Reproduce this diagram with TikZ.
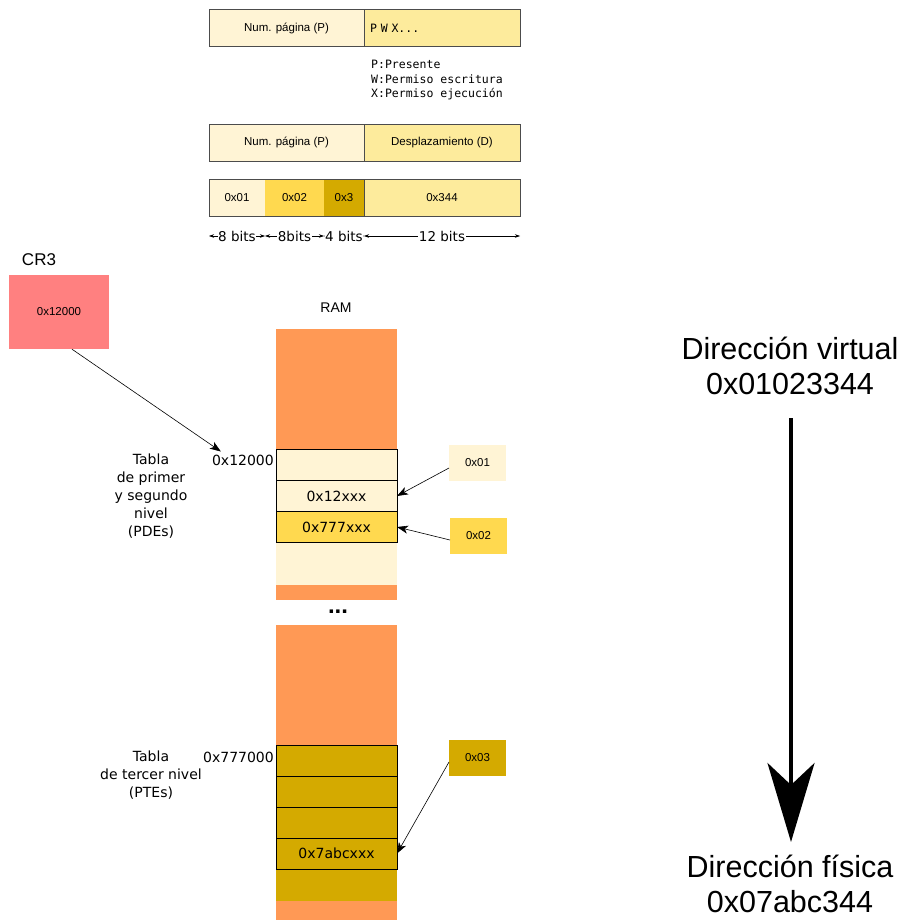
\documentclass[tikz,border=0pt]{standalone}
\usepackage{fontspec}
\setmainfont{Liberation Sans}
\newfontfamily\dvsans{DejaVu Sans}
\newfontfamily\dvmono{DejaVu Sans Mono}
\usepackage{xcolor}
\usetikzlibrary{arrows.meta,positioning,calc}

\definecolor{cream}{HTML}{FFF4D5}
\definecolor{lightyel}{HTML}{FDEB9C}
\definecolor{yel}{HTML}{FFD94F}
\definecolor{gold}{HTML}{D4AA00}
\definecolor{ramorange}{HTML}{FF9955}
\definecolor{crred}{HTML}{FF8080}
\newcommand{\fsz}[2]{\fontsize{#1}{#2}\selectfont}

\begin{document}
\begin{tikzpicture}[
    x=1pt, y=-1pt,
    field/.style={rectangle, draw=black!70, inner sep=0pt, outer sep=0pt, minimum height=37pt, font=\fsz{11.5}{13}},
    part/.style={rectangle, inner sep=0pt, outer sep=0pt, minimum height=37pt, font=\fsz{11.5}{13}},
    cell/.style={rectangle, draw=black, inner sep=0pt, outer sep=0pt, minimum width=121pt, minimum height=31pt, font=\dvsans\fsz{14}{17}},
    sel/.style={rectangle, inner sep=0pt, outer sep=0pt, minimum width=57pt, minimum height=36pt, font=\fsz{11.5}{13}},
    lbl/.style={font=\dvsans\fsz{14}{18}, align=center, inner sep=1pt},
    bits/.style={font=\dvsans\fsz{13.5}{15}, fill=white, inner sep=0.5pt},
    arrow/.style={-{Stealth[length=11pt, width=8pt, inset=3pt]}, line width=0.6pt},
    dim/.style={{Stealth[length=5pt, width=3.5pt]}-{Stealth[length=5pt, width=3.5pt]}, line width=0.5pt},
    bigarrow/.style={-{Stealth[length=79pt, width=47pt, inset=22pt]}, line width=4pt}
]
    \useasboundingbox (0,0) rectangle (900,920);

    % formato de entrada y de direccion
    \node [field, fill=cream, minimum width=155pt] (pte) at (286.5,28) {Num. página (P)};
    \node [field, fill=lightyel, minimum width=156pt, text width=144pt, align=left, font=\dvmono\fsz{11.5}{13}] (flags) at (442,28) {P~W~X...};
    \node [anchor=north west, align=left, inner sep=0pt, font=\dvmono\fsz{11.5}{14.5}] (legend) at (371,60) {P:Presente\\W:Permiso escritura\\X:Permiso ejecución};
    \node [field, fill=cream, minimum width=155pt] (np) at (286.5,142.5) {Num. página (P)};
    \node [field, fill=lightyel, minimum width=156pt] (desp) at (442,142.5) {Desplazamiento (D)};

    \node [part, fill=cream, minimum width=56pt] (b1) at (237,197.5) {0x01};
    \node [part, fill=yel, minimum width=59pt] (b2) at (294.5,197.5) {0x02};
    \node [part, fill=gold, minimum width=40pt] (b3) at (344,197.5) {0x3};
    \node [field, fill=lightyel, minimum width=156pt] (b4) at (442,197.5) {0x344};
    \draw [black!70] (b1.north west) rectangle (b3.south east);

    \coordinate (t0) at (209,236);
    \coordinate (t1) at (265,236);
    \coordinate (t2) at (324,236);
    \coordinate (t3) at (364,236);
    \coordinate (t4) at (520,236);
    \draw [dim] (t0) -- node [bits] {8 bits} (t1);
    \draw [dim] (t1) -- node [bits] {8bits} (t2);
    \draw [dim] (t2) -- node [bits] {4 bits} (t3);
    \draw [dim] (t3) -- node [bits] {12 bits} (t4);

    % CR3
    \node [font=\fsz{17}{19}] (crl) at (39,260) {CR3};
    \node [rectangle, fill=crred, minimum width=100pt, minimum height=74pt, font=\fsz{11.5}{13}] (cr3) at (59,312) {0x12000};

    % RAM
    \node [font=\fsz{14}{16}] (raml) at (336,308) {RAM};
    \fill [ramorange] (276,329) rectangle (397,600);
    \fill [cream] (276,449) rectangle (397,585);
    \node [cell, fill=cream] (c1) at (336.5,465) {};
    \node [cell, fill=cream] (c2) at (336.5,496) {0x12xxx};
    \node [cell, fill=yel] (c3) at (336.5,527) {0x777xxx};
    \node [font=\bfseries\fsz{24}{26}] (dots) at (338,612) {...};
    \fill [ramorange] (276,625) rectangle (397,920);
    \fill [gold] (276,745) rectangle (397,901);
    \foreach \y [count=\i] in {760.5,791.5,822.5} {
        \node [cell, fill=gold] (p\i) at (336.5,\y) {};
    }
    \node [cell, fill=gold] (p4) at (336.5,853.5) {0x7abcxxx};

    \node [lbl, anchor=east] (a1) at (275,460) {0x12000};
    \node [lbl] (tab1) at (151,496) {Tabla\\de primer\\y segundo\\nivel\\(PDEs)};
    \node [lbl, anchor=east] (a2) at (275,757) {0x777000};
    \node [lbl] (tab2) at (151,775) {Tabla\\de tercer nivel\\(PTEs)};

    % indices
    \node [sel, fill=cream] (s1) at (477.5,463) {0x01};
    \node [sel, fill=yel] (s2) at (478.5,536) {0x02};
    \node [sel, fill=gold] (s3) at (477.5,758) {0x03};

    \draw [arrow] ([xshift=13pt]cr3.south) -- ([xshift=10pt, yshift=2pt]a1.north west);
    \draw [arrow] ([yshift=-5pt]s1.west) -- (c2.east);
    \draw [arrow] ([yshift=-4pt]s2.west) -- (c3.east);
    \draw [arrow] ([yshift=-4pt]s3.west) -- (p4.east);

    % traduccion
    \node [font=\fsz{30.5}{35}, align=center, inner sep=0pt] (va) at (790,366) {Dirección virtual\\0x01023344};
    \node [font=\fsz{30.5}{35}, align=center, inner sep=0pt] (pa) at (790,884) {Dirección física\\0x07abc344};
    \coordinate (vs) at (791,418);
    \coordinate (ve) at (791,842);
    \draw [bigarrow] (vs) -- (ve);
\end{tikzpicture}
\end{document}
